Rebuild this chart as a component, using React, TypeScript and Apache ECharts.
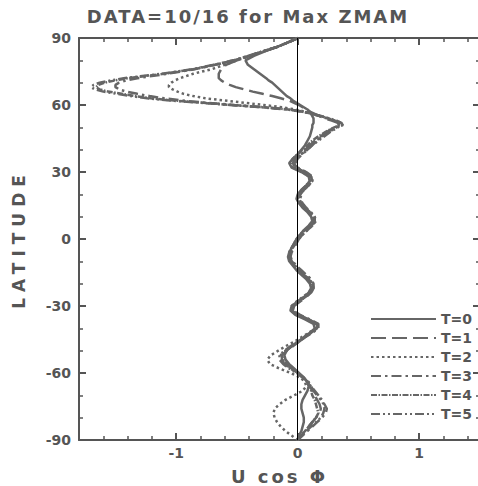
import React, { useEffect, useRef } from 'react';
import * as echarts from 'echarts';

const titleText = 'DATA=10/16 for Max ZMAM';
const xName = 'U cos Φ';
const yName = 'LATITUDE';
const seriesNames = ['T=0', 'T=1', 'T=2', 'T=3', 'T=4', 'T=5'];

const latitudes = [
  90, 88, 86, 84, 82, 80, 78, 76, 74, 72,
  71, 70, 69, 68, 67, 66, 65, 64, 63, 62, 61, 60, 59, 58, 57, 56, 55, 54, 53, 52, 51, 50,
  48, 46, 44, 42, 40, 38, 36, 34, 32, 30, 28, 26, 24, 22, 20, 18, 16, 14, 12, 10, 8, 6, 4, 2, 0,
  -2, -4, -6, -8, -10, -12, -14, -16, -18, -20, -22, -24, -26, -28, -30, -32, -34, -36, -38, -40,
  -42, -44, -46, -48, -50, -52, -54, -56, -58, -60, -62, -64, -66, -68, -70, -72, -74, -76, -78,
  -80, -82, -84, -86, -88, -90,
];

const uT0 = [
  0, -0.08, -0.17, -0.27, -0.36, -0.43, -0.41, -0.36, -0.31, -0.26,
  -0.24, -0.21, -0.19, -0.17, -0.15, -0.13, -0.11, -0.09, -0.06, -0.04, -0.01, 0.02, 0.05, 0.08, 0.1, 0.11, 0.12, 0.13, 0.13, 0.13, 0.12, 0.12,
  0.11, 0.1, 0.08, 0.06, 0.03, 0.0, -0.04, -0.07, -0.05, 0.03, 0.09, 0.1, 0.07, 0.03, 0.0, -0.01, 0.01, 0.04, 0.08, 0.11, 0.12, 0.09, 0.05, 0.02, -0.01,
  -0.03, -0.05, -0.07, -0.08, -0.07, -0.04, -0.01, 0.03, 0.07, 0.1, 0.11, 0.09, 0.05, 0.0, -0.05, -0.06, -0.02, 0.06, 0.13, 0.14,
  0.1, 0.05, 0.0, -0.05, -0.09, -0.11, -0.1, -0.07, -0.03, 0.01, 0.05, 0.08, 0.09, 0.08, 0.06, 0.04, 0.03, 0.03, 0.04,
  0.05, 0.05, 0.04, 0.03, 0.01, 0,
];

const uT1 = [
  0, -0.08, -0.17, -0.28, -0.39, -0.5, -0.59, -0.63, -0.65, -0.65,
  -0.63, -0.6, -0.56, -0.51, -0.44, -0.37, -0.29, -0.21, -0.14, -0.07, -0.03, 0.01, 0.04, 0.07, 0.1, 0.14, 0.18, 0.22, 0.28, 0.33, 0.34, 0.3,
  0.24, 0.19, 0.14, 0.1, 0.06, 0.02, -0.02, -0.04, -0.02, 0.06, 0.11, 0.11, 0.08, 0.04, 0.02, 0.01, 0.03, 0.06, 0.1, 0.13, 0.14, 0.11, 0.07, 0.04, 0.01,
  -0.01, -0.03, -0.05, -0.06, -0.05, -0.02, 0.01, 0.05, 0.09, 0.12, 0.13, 0.11, 0.07, 0.02, -0.03, -0.04, 0.01, 0.09, 0.16, 0.16,
  0.11, 0.06, 0.01, -0.04, -0.09, -0.13, -0.13, -0.1, -0.05, 0.0, 0.05, 0.08, 0.1, 0.12, 0.14, 0.16, 0.18, 0.19, 0.18,
  0.15, 0.12, 0.09, 0.06, 0.03, 0,
];

const uT2 = [
  0, -0.08, -0.17, -0.28, -0.39, -0.5, -0.6, -0.71, -0.86, -0.97,
  -1.01, -1.04, -1.06, -1.06, -1.03, -0.99, -0.94, -0.86, -0.76, -0.6, -0.44, -0.28, -0.13, -0.02, 0.06, 0.13, 0.19, 0.25, 0.31, 0.36, 0.37, 0.32,
  0.26, 0.2, 0.15, 0.11, 0.07, 0.03, -0.01, -0.03, -0.01, 0.05, 0.1, 0.12, 0.09, 0.05, 0.02, 0.0, 0.02, 0.05, 0.09, 0.13, 0.15, 0.12, 0.08, 0.04, 0.0,
  -0.03, -0.05, -0.07, -0.07, -0.05, -0.02, 0.02, 0.06, 0.1, 0.12, 0.12, 0.09, 0.04, -0.01, -0.05, -0.05, 0.0, 0.08, 0.15, 0.15,
  0.09, 0.03, -0.03, -0.1, -0.16, -0.22, -0.25, -0.23, -0.15, -0.06, 0.02, 0.06, 0.07, 0.04, -0.03, -0.1, -0.15, -0.19, -0.2,
  -0.19, -0.17, -0.14, -0.1, -0.05, 0,
];

const uT3 = [
  0, -0.08, -0.17, -0.29, -0.4, -0.52, -0.68, -0.85, -1.07, -1.32,
  -1.41, -1.47, -1.5, -1.5, -1.47, -1.41, -1.32, -1.22, -1.1, -0.95, -0.75, -0.52, -0.27, -0.07, 0.05, 0.12, 0.18, 0.24, 0.3, 0.34, 0.35, 0.31,
  0.25, 0.2, 0.16, 0.12, 0.08, 0.04, 0.0, -0.02, 0.0, 0.07, 0.12, 0.12, 0.09, 0.05, 0.03, 0.02, 0.04, 0.07, 0.11, 0.14, 0.14, 0.11, 0.07, 0.03, 0.0,
  -0.02, -0.04, -0.06, -0.06, -0.04, -0.01, 0.03, 0.07, 0.11, 0.13, 0.13, 0.1, 0.05, 0.0, -0.04, -0.04, 0.02, 0.1, 0.17, 0.17,
  0.12, 0.06, 0.01, -0.05, -0.1, -0.14, -0.14, -0.11, -0.06, 0.0, 0.05, 0.09, 0.11, 0.13, 0.16, 0.19, 0.22, 0.24, 0.23,
  0.2, 0.16, 0.12, 0.08, 0.04, 0,
];

const uT4 = [
  0, -0.08, -0.17, -0.29, -0.4, -0.52, -0.68, -0.86, -1.1, -1.4,
  -1.5, -1.59, -1.64, -1.66, -1.63, -1.56, -1.45, -1.34, -1.21, -1.02, -0.78, -0.54, -0.28, -0.08, 0.04, 0.12, 0.19, 0.25, 0.3, 0.34, 0.35, 0.3,
  0.23, 0.17, 0.12, 0.08, 0.04, 0.0, -0.04, -0.06, -0.04, 0.04, 0.09, 0.1, 0.07, 0.03, 0.01, 0.0, 0.02, 0.05, 0.09, 0.12, 0.13, 0.1, 0.06, 0.02, -0.01,
  -0.03, -0.05, -0.07, -0.07, -0.06, -0.03, 0.0, 0.04, 0.08, 0.11, 0.12, 0.1, 0.06, 0.01, -0.04, -0.05, -0.01, 0.07, 0.14, 0.15,
  0.1, 0.05, 0.0, -0.05, -0.1, -0.13, -0.12, -0.09, -0.04, 0.0, 0.04, 0.08, 0.1, 0.11, 0.12, 0.14, 0.15, 0.16, 0.17,
  0.15, 0.12, 0.09, 0.06, 0.03, 0,
];

const uT5 = [
  0, -0.08, -0.17, -0.29, -0.41, -0.53, -0.69, -0.87, -1.12, -1.43,
  -1.54, -1.63, -1.68, -1.7, -1.67, -1.6, -1.49, -1.37, -1.24, -1.05, -0.8, -0.56, -0.3, -0.09, 0.04, 0.13, 0.2, 0.26, 0.32, 0.36, 0.37, 0.33,
  0.27, 0.22, 0.17, 0.12, 0.08, 0.03, -0.01, -0.03, -0.01, 0.06, 0.11, 0.12, 0.09, 0.05, 0.02, 0.01, 0.03, 0.06, 0.1, 0.14, 0.15, 0.12, 0.08, 0.04, 0.01,
  -0.02, -0.04, -0.06, -0.07, -0.06, -0.03, 0.01, 0.05, 0.09, 0.12, 0.13, 0.11, 0.06, 0.01, -0.04, -0.05, 0.0, 0.09, 0.16, 0.16,
  0.11, 0.06, 0.0, -0.06, -0.11, -0.15, -0.15, -0.12, -0.07, -0.01, 0.04, 0.08, 0.11, 0.14, 0.17, 0.2, 0.21, 0.22, 0.21,
  0.19, 0.15, 0.11, 0.07, 0.03, 0,
];

const seriesValues = [uT0, uT1, uT2, uT3, uT4, uT5];

const xMajorTicks = [-1, 0, 1];
const xMinorTicks = [-1.6, -1.4, -1.2, -0.8, -0.6, -0.4, -0.2, 0.2, 0.4, 0.6, 0.8, 1.2, 1.4];
const yMajorTicks = [-90, -60, -30, 0, 30, 60, 90];
const yMinorTicks = [-80, -70, -50, -40, -20, -10, 10, 20, 40, 50, 70, 80];

const dashPatterns: (string | number[])[] = [
  'solid',
  [15, 6],
  [2.5, 3],
  [10, 4, 2.5, 4],
  [6, 1.5, 1.5, 1.5],
  [9, 3, 2, 3, 2, 3],
];

const FONT = 'DejaVu Sans';
const AXIS = '#555';
const TEXT = '#555';
const LINE = '#666';

export default function App() {
  const ref = useRef<HTMLDivElement>(null);

  useEffect(() => {
    if (!ref.current) return;
    document.body.style.margin = '0';
    const chart = echarts.init(ref.current, null, { renderer: 'svg' });

    const xBase = { type: 'value', min: -1.8, max: 1.5, splitLine: { show: false }, gridIndex: 0 };
    const yBase = { type: 'value', min: -90, max: 90, splitLine: { show: false }, gridIndex: 0 };
    const lineStyleAxis = { color: AXIS, width: 2 };
    const labelStyle = { fontFamily: FONT, fontWeight: 'bold', fontSize: 14, color: TEXT };
    const majorLine = { show: true, onZero: false, lineStyle: lineStyleAxis };
    const noLine = { show: false, onZero: false };

    const series: any[] = seriesNames.map((name, i) => ({
      name,
      type: 'line',
      xAxisIndex: 0,
      yAxisIndex: 0,
      showSymbol: false,
      symbol: 'none',
      data: latitudes.map((lat, k) => [seriesValues[i][k], lat]),
      lineStyle: { color: LINE, width: 2.5, type: dashPatterns[i] },
      itemStyle: { color: LINE },
      z: 3,
    }));
    series[0].markLine = {
      silent: true,
      symbol: ['none', 'none'],
      label: { show: false },
      lineStyle: { color: '#000', width: 1, type: 'solid' },
      data: [{ xAxis: 0 }],
    };

    chart.setOption({
      animation: false,
      backgroundColor: '#fff',
      grid: { left: 79, top: 38, width: 401, height: 402, containLabel: false, outerBoundsMode: 'none' },
      graphic: [
        {
          type: 'text',
          x: 248,
          y: 16,
          style: {
            text: titleText,
            fill: TEXT,
            font: `bold 18px "${FONT}"`,
            align: 'center',
            verticalAlign: 'middle',
          },
        },
      ],
      legend: {
        orient: 'vertical',
        left: 365,
        top: 307,
        itemWidth: 65,
        itemHeight: 14,
        itemGap: 5,
        data: seriesNames,
        itemStyle: { opacity: 0, borderWidth: 0 },
        textStyle: { fontFamily: FONT, fontWeight: 'bold', fontSize: 14, color: TEXT },
        selectedMode: false,
      },
      xAxis: [
        {
          ...xBase,
          position: 'bottom',
          axisLine: majorLine,
          axisTick: { show: true, inside: true, length: 7, customValues: xMajorTicks, lineStyle: lineStyleAxis },
          axisLabel: { show: true, customValues: xMajorTicks, margin: 6, ...labelStyle },
          name: xName,
          nameLocation: 'middle',
          nameGap: 27,
          nameTextStyle: { fontFamily: FONT, fontWeight: 'bold', fontSize: 18, color: TEXT },
        },
        {
          ...xBase,
          position: 'bottom',
          axisLine: noLine,
          axisTick: { show: true, inside: true, length: 4, customValues: xMinorTicks, lineStyle: { color: AXIS, width: 1.5 } },
          axisLabel: { show: false },
        },
        {
          ...xBase,
          position: 'top',
          axisLine: majorLine,
          axisTick: { show: true, inside: true, length: 7, customValues: xMajorTicks, lineStyle: lineStyleAxis },
          axisLabel: { show: false },
        },
        {
          ...xBase,
          position: 'top',
          axisLine: noLine,
          axisTick: { show: true, inside: true, length: 4, customValues: xMinorTicks, lineStyle: { color: AXIS, width: 1.5 } },
          axisLabel: { show: false },
        },
      ],
      yAxis: [
        {
          ...yBase,
          position: 'left',
          axisLine: majorLine,
          axisTick: { show: true, inside: true, length: 7, customValues: yMajorTicks, lineStyle: lineStyleAxis },
          axisLabel: { show: true, customValues: yMajorTicks, margin: 8, ...labelStyle },
          name: yName,
          nameLocation: 'middle',
          nameGap: 52,
          nameTextStyle: { fontFamily: FONT, fontWeight: 'bold', fontSize: 17, color: TEXT },
        },
        {
          ...yBase,
          position: 'left',
          axisLine: noLine,
          axisTick: { show: true, inside: true, length: 4, customValues: yMinorTicks, lineStyle: { color: AXIS, width: 1.5 } },
          axisLabel: { show: false },
        },
        {
          ...yBase,
          position: 'right',
          axisLine: majorLine,
          axisTick: { show: true, inside: true, length: 7, customValues: yMajorTicks, lineStyle: lineStyleAxis },
          axisLabel: { show: false },
        },
        {
          ...yBase,
          position: 'right',
          axisLine: noLine,
          axisTick: { show: true, inside: true, length: 4, customValues: yMinorTicks, lineStyle: { color: AXIS, width: 1.5 } },
          axisLabel: { show: false },
        },
      ],
      series,
    });

    const applySpacing = () => {
      const root = ref.current;
      if (!root) return;
      root.querySelectorAll('text').forEach((t) => {
        const s = t.textContent;
        if (s === titleText) t.setAttribute('letter-spacing', '2');
        else if (s === yName) t.setAttribute('letter-spacing', '6');
        else if (s === xName) t.setAttribute('letter-spacing', '3');
      });
    };
    applySpacing();
    chart.on('finished', applySpacing);

    return () => {
      chart.dispose();
    };
  }, []);

  return (
    <div
      ref={ref}
      style={{ position: 'absolute', left: 0, top: 0, width: 478, height: 486, background: '#fff' }}
    />
  );
}
